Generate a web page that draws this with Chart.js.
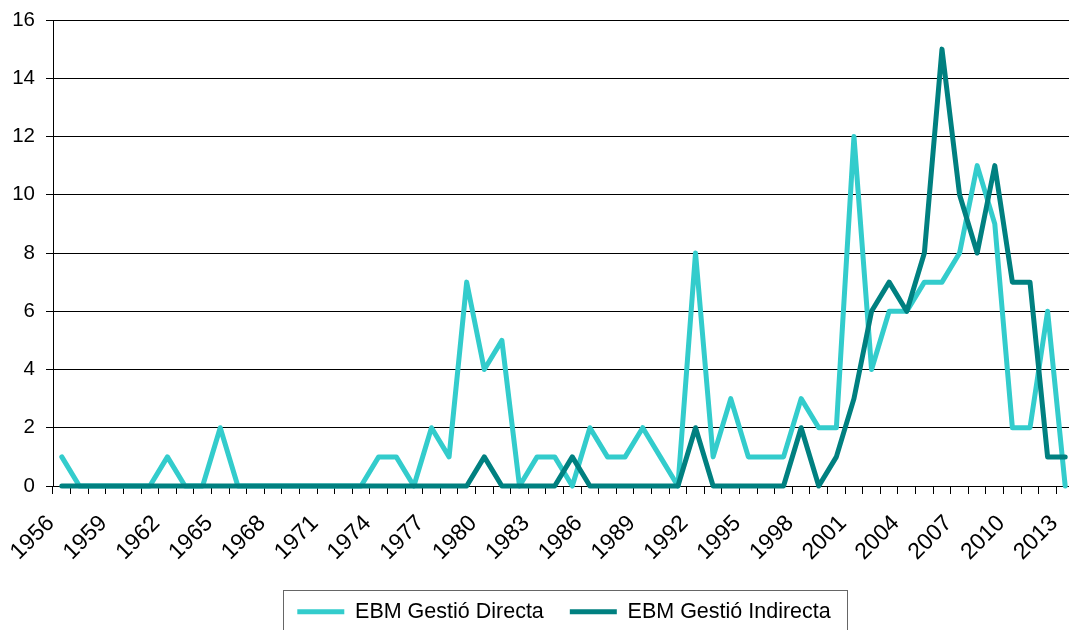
<!DOCTYPE html>
<html>
<head>
<meta charset="utf-8">
<script src="https://cdn.jsdelivr.net/npm/chart.js@4/dist/chart.umd.min.js"></script>
<style>
html,body{margin:0;padding:0;background:#fff;overflow:hidden;width:1069px;height:630px}
#wrap{position:absolute;left:0;top:0;width:1074px;height:630px}
</style>
</head>
<body>
<div id="wrap"><canvas id="c" width="1074" height="630"></canvas></div>
<script>
const years = ['1956','1957','1958','1959','1960','1961','1962','1963','1964','1965',
  '1966','1967','1968','1969','1970','1971','1972','1973','1974','1975',
  '1976','1977','1978','1979','1980','1981','1982','1983','1984','1985',
  '1986','1987','1988','1989','1990','1991','1992','1993','1994','1995',
  '1996','1997','1998','1999','2000','2001','2002','2003','2004','2005',
  '2006','2007','2008','2009','2010','2011','2012','2013'];

const directa = [1,0,0,0,0,0,1,0,0,2,
  0,0,0,0,0,0,0,0,1,1,
  0,2,1,7,4,5,0,1,1,0,
  2,1,1,2,1,0,8,1,3,1,
  1,1,3,2,2,12,4,6,6,7,
  7,8,11,9,2,2,6,0];

const indirecta = [0,0,0,0,0,0,0,0,0,0,
  0,0,0,0,0,0,0,0,0,0,
  0,0,0,0,1,0,0,0,0,1,
  0,0,0,0,0,0,2,0,0,0,
  0,0,2,0,1,3,6,7,6,8,
  15,10,8,11,7,7,1,1];

const xTickLabels = ['1956','1959','1962','1965','1968','1971','1974','1977','1980','1983',
  '1986','1989','1992','1995','1998','2001','2004','2007','2010','2013'];

const seriesNames = ['EBM Gestió Directa','EBM Gestió Indirecta'];
const seriesColors = ['#33CCCC','#008080'];

const yFont = {family:'Liberation Sans', size:20.5};
const xFont = {family:'Liberation Sans', size:23};
const legendFont = {family:'Liberation Sans', size:21.5};

const legendFrame = {
  id:'legendFrame',
  afterLayout(chart){
    const lg = chart.legend;
    lg.left += 27; lg.right += 27;
  },
  afterDraw(chart){
    const lg = chart.legend;
    const ctx = chart.ctx;
    const P = lg.options.labels.padding;
    const span = lg.lineWidths[0] - P;
    const cx = (lg.left + lg.right) / 2;
    ctx.save();
    ctx.strokeStyle = '#666';
    ctx.lineWidth = 1;
    ctx.strokeRect(Math.round(cx - span/2 - 14) + 0.5, Math.round(lg.top + 15) + 0.5, Math.round(span + 31), 60);
    ctx.restore();
  }
};

new Chart(document.getElementById('c'), {
  type:'line',
  data:{
    labels: years,
    datasets:[
      {label:seriesNames[0], data:directa, borderColor:seriesColors[0], backgroundColor:seriesColors[0],
       borderWidth:5, pointRadius:0, tension:0, borderJoinStyle:'round', borderCapStyle:'round', order:1, clip:false},
      {label:seriesNames[1], data:indirecta, borderColor:seriesColors[1], backgroundColor:seriesColors[1],
       borderWidth:5, pointRadius:0, tension:0, borderJoinStyle:'round', borderCapStyle:'round', order:0, clip:false}
    ]
  },
  options:{
    responsive:false,
    animation:false,
    devicePixelRatio:1,
    layout:{autoPadding:false, padding:{top:20,left:0,right:0,bottom:0}},
    plugins:{
      legend:{
        position:'bottom',
        maxHeight:55,
        labels:{
          usePointStyle:true, pointStyle:'line', pointStyleWidth:47, padding:26,
          color:'#000', font:legendFont,
          sort:(a,b)=>a.datasetIndex-b.datasetIndex
        }
      },
      tooltip:{enabled:false}
    },
    scales:{
      x:{
        offset:true,
        grid:{offset:true, drawOnChartArea:false, drawTicks:true, tickLength:8, color:'#000'},
        border:{color:'#000'},
        ticks:{
          autoSkip:false, minRotation:45, maxRotation:45, padding:16, labelOffset:-11,
          color:'#000', font:xFont,
          callback:function(v){ const l = this.getLabelForValue(v); return xTickLabels.includes(l) ? l : ''; }
        },
        afterFit:(s)=>{ s.height = 89; s.paddingLeft = 0; s.paddingRight = 0; }
      },
      y:{
        min:0, max:16,
        ticks:{stepSize:2, padding:11, color:'#000', font:yFont},
        grid:{color:'#000', tickLength:7},
        border:{color:'#000'},
        afterFit:(s)=>{ s.width = 53; s.paddingTop = 0; s.paddingBottom = 0; }
      }
    }
  },
  plugins:[legendFrame]
});
</script>
</body>
</html>
